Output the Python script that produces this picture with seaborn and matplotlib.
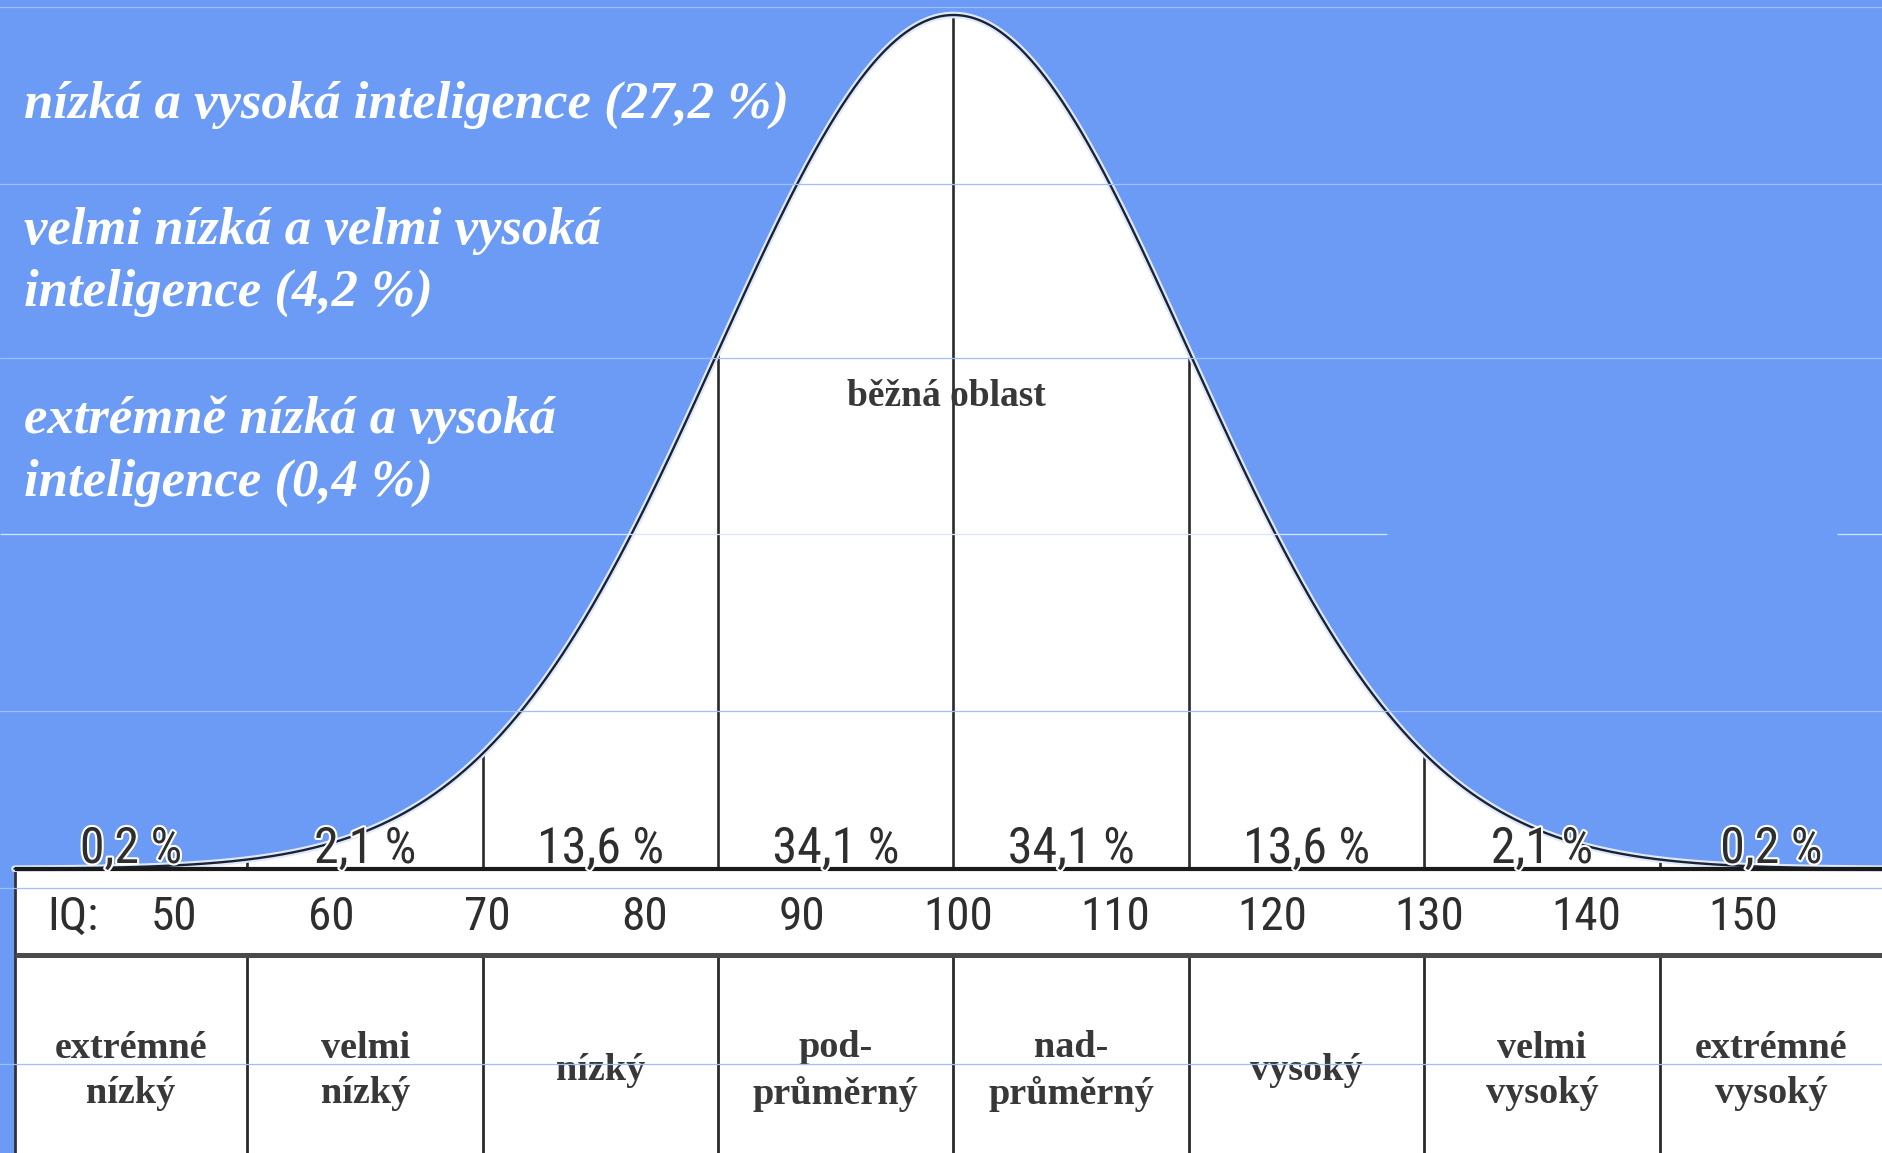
import numpy as np
import pandas as pd
import matplotlib
matplotlib.use("Agg")
import matplotlib.pyplot as plt
import matplotlib.patheffects as pe
from matplotlib.transforms import offset_copy
import seaborn as sns

# ------------------------------------------------------------------ data
iq_mean = 100
iq_sd = 15
band_edges = [55, 70, 85, 100, 115, 130, 145]
band_percent = ["0,2 %", "2,1 %", "13,6 %", "34,1 %", "34,1 %", "13,6 %", "2,1 %", "0,2 %"]
band_names = ["extrémné\nnízký", "velmi\nnízký", "nízký", "pod-\nprůměrný",
              "nad-\nprůměrný", "vysoký", "velmi\nvysoký", "extrémné\nvysoký"]
iq_ticks = [50, 60, 70, 80, 90, 100, 110, 120, 130, 140, 150]
iq_tick_labels = [str(v) for v in iq_ticks]
iq_row_title = "IQ:"
common_label = "běžná oblast"
overlay_lines = ["nízká a vysoká inteligence (27,2 %)",
                 "velmi nízká a velmi vysoká",
                 "inteligence (4,2 %)",
                 "extrémně nízká a vysoká",
                 "inteligence (0,4 %)"]

# ---------------------------------------------------------------- layout
W, H = 1883, 1153
DPI = 100
BLUE = "#6B9BF5"
X100_PX, PX_PER_IQ = 953.5, 15.69
BASE_PX, PEAK_PX = 869.0, 15.0
UNIT = BASE_PX - PEAK_PX
xlim = (100 - X100_PX / PX_PER_IQ, 100 + (W - X100_PX) / PX_PER_IQ)
ylim = (-(H - BASE_PX) / UNIT, BASE_PX / UNIT)


def py(p):
    """image pixel row -> data y"""
    return (BASE_PX - p) / UNIT


def px(p):
    """image pixel column -> data x"""
    return 100 + (p - X100_PX) / PX_PER_IQ


table_left = px(14.5)
row_y = py(955)

sns.set_theme(style="white")
plt.rcParams["font.family"] = ["DejaVu Sans"]

fig = plt.figure(figsize=(W / DPI, H / DPI), dpi=DPI, facecolor=BLUE)
ax = fig.add_axes([0, 0, 1, 1])
ax.set_facecolor(BLUE)
ax.set_xlim(*xlim)
ax.set_ylim(*ylim)
ax.axis("off")

# ----------------------------------------------------------- bell curve
x = np.linspace(table_left, xlim[1], 1500)
dens = np.exp(-0.5 * ((x - iq_mean) / iq_sd) ** 2)
df = pd.DataFrame({"IQ": x, "density": dens})

ax.fill_between(df["IQ"], 0, df["density"], color="white", zorder=1, lw=0)
sns.lineplot(data=df, x="IQ", y="density", ax=ax, color="#1b2236", lw=1.7,
             zorder=4, legend=False,
             path_effects=[pe.Stroke(linewidth=4.8, foreground="#dfe9fc"), pe.Normal()])

# table background
ax.fill_between([table_left, xlim[1]], ylim[0], 0, color="white", zorder=1, lw=0)

# vertical boundaries under the curve
edge_h = np.interp(band_edges, df["IQ"], df["density"])
ax.vlines(band_edges, 0, edge_h, color="#2a2a2a", lw=1.9, zorder=3)
# vertical boundaries in the category row
ax.vlines(band_edges, ylim[0], row_y, color="#2a2a2a", lw=2.0, zorder=3)
ax.vlines([table_left], ylim[0], 0, color="#333333", lw=2.0, zorder=3)
# horizontal table lines
ax.hlines(0, table_left, xlim[1], color="#1a1a1a", lw=3.0, zorder=5)
ax.hlines(row_y, table_left, xlim[1], color="#4a4a4a", lw=3.6, zorder=5)

# ------------------------------------------------------------------ text
edges_full = [table_left] + band_edges + [xlim[1]]
centers = [(a + b) / 2 for a, b in zip(edges_full[:-1], edges_full[1:])]

narrow = dict(family=["Noto Sans Condensed", "Roboto Condensed", "DejaVu Sans Condensed",
                      "Liberation Sans Narrow", "Liberation Sans", "DejaVu Sans"],
              fontstretch="condensed")
for cx, lab in zip(centers, band_percent):
    ax.text(cx, py(863), lab, ha="center", va="baseline", fontsize=36,
            color="#2e2e2e", zorder=7,
            path_effects=[pe.Stroke(linewidth=3, foreground="white"), pe.Normal()],
            **narrow)

tick_tr = offset_copy(ax.transData, fig=fig, x=5, y=0, units="dots")
for v, lab in zip(iq_ticks, iq_tick_labels):
    ax.text(v, py(930), lab, ha="center", va="baseline", fontsize=34,
            color="#2e2e2e", zorder=7, transform=tick_tr, **narrow)
ax.text(px(73), py(930), iq_row_title, ha="center", va="baseline", fontsize=34,
        color="#2e2e2e", zorder=7, **narrow)

for cx, lab in zip(centers, band_names):
    ax.text(cx, py(1071), lab, ha="center", va="center", fontsize=27.5,
            family=["Liberation Serif", "DejaVu Serif"], fontweight="bold",
            color="#383838", linespacing=1.38, zorder=7)

ax.text(px(946), py(397), common_label, ha="center", va="center", fontsize=27,
        family=["Liberation Serif", "DejaVu Serif"], fontweight="bold",
        color="#383838", zorder=7)

# overlay captions (white bold italic serif)
overlay_baselines = [118, 244, 306, 433, 496]
for line, b in zip(overlay_lines, overlay_baselines):
    fig.text(24 / W, 1 - b / H, line, ha="left", va="baseline", fontsize=38,
             family=["Liberation Serif", "DejaVu Serif"], fontweight="bold",
             fontstyle="italic", color="white", zorder=9)

# faint slide guide lines
for g in [7, 184, 358, 711, 888, 1064]:
    ax.axhline(py(g), color="#9dbffa", lw=0.9, zorder=8)
ax.hlines([py(534), py(534)], [xlim[0], px(1837)], [px(1387), xlim[1]],
          color="#d6e4fd", lw=0.9, zorder=8)

fig.savefig("out.png", dpi=DPI, facecolor=BLUE)
